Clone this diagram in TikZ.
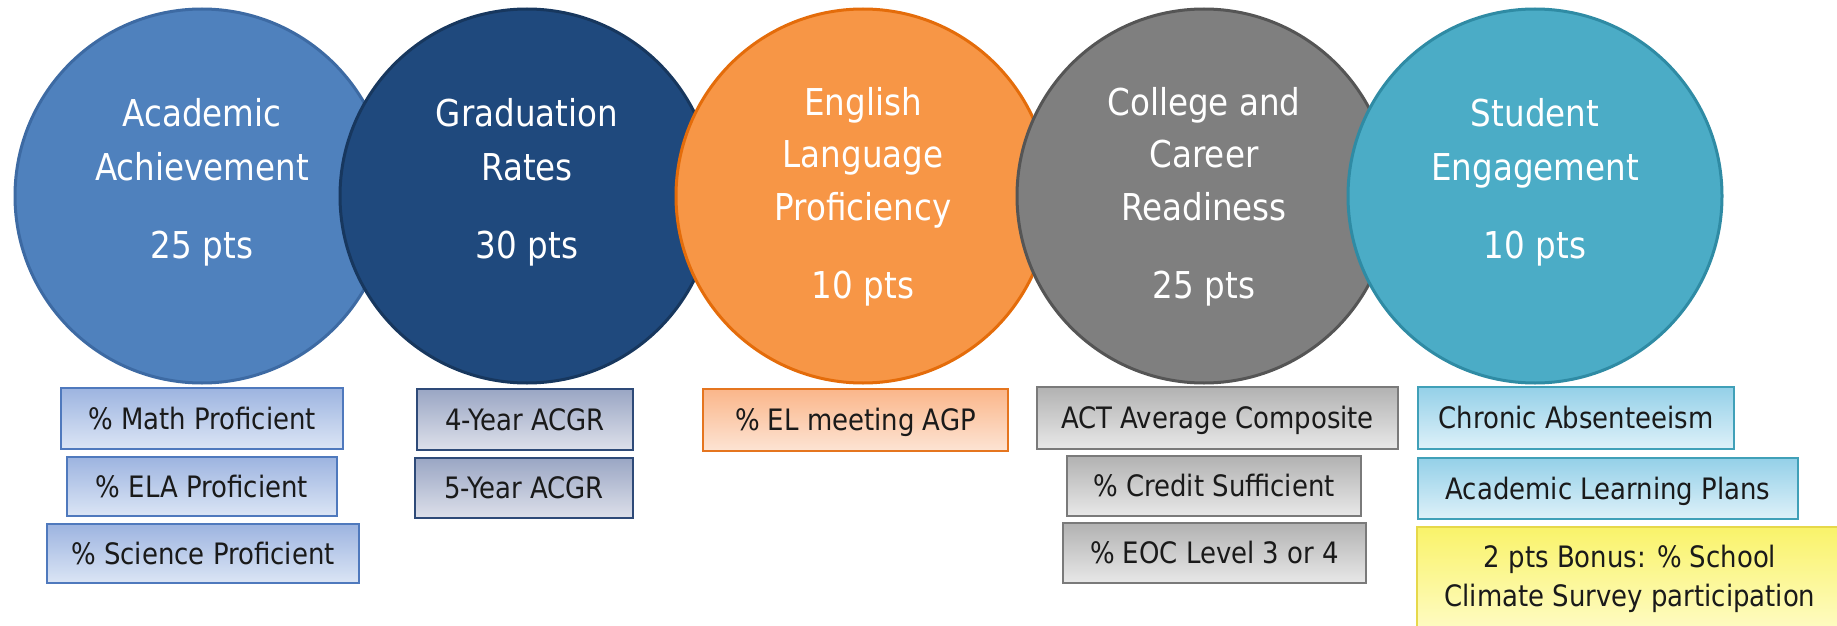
\documentclass[tikz,border=0pt]{standalone}
\usepackage{fontspec}
\setmainfont{DejaVu Sans}[FakeStretch=0.88]
\definecolor{cA}{HTML}{4F81BD}\definecolor{cAd}{HTML}{3D6AA3}
\definecolor{cB}{HTML}{1F497D}\definecolor{cBd}{HTML}{17375E}
\definecolor{cC}{HTML}{F79646}\definecolor{cCd}{HTML}{E46C0A}
\definecolor{cD}{HTML}{7F7F7F}\definecolor{cDd}{HTML}{555555}
\definecolor{cE}{HTML}{4BACC6}\definecolor{cEd}{HTML}{2F8BA4}
\definecolor{bAt}{HTML}{9DB4E0}\definecolor{bAb}{HTML}{DBE5F5}\definecolor{bAd}{HTML}{4F79BD}
\definecolor{bBt}{HTML}{9AA6C4}\definecolor{bBb}{HTML}{DDE0EA}\definecolor{bBd}{HTML}{2E4A78}
\definecolor{bCt}{HTML}{FAB68A}\definecolor{bCb}{HTML}{FDE4D4}\definecolor{bCd}{HTML}{E5751F}
\definecolor{bDt}{HTML}{B2B2B2}\definecolor{bDb}{HTML}{E8E8E8}\definecolor{bDd}{HTML}{7A7A7A}
\definecolor{bEt}{HTML}{94D0E8}\definecolor{bEb}{HTML}{DEF1F9}\definecolor{bEd}{HTML}{40A0B8}
\definecolor{bYt}{HTML}{F9F36A}\definecolor{bYb}{HTML}{FFFCCC}\definecolor{bYd}{HTML}{E6D84A}
\definecolor{boxtext}{HTML}{1A1A1A}
\tikzset{
  circ/.style={circle, minimum size=374pt, inner sep=0pt, line width=3pt},
  ctext/.style={text=white, font=\fontsize{37}{44}\selectfont, anchor=base, inner sep=0pt},
  box/.style={rectangle, inner sep=0pt, line width=1.8pt, text=boxtext,
    font=\fontsize{29.5}{40}\selectfont, text height=21.5pt, text depth=0pt},
  btext/.style={text=boxtext, font=\fontsize{29.5}{40}\selectfont, anchor=base, inner sep=0pt},
  boxA/.style={box, draw=bAd, top color=bAt, bottom color=bAb},
  boxB/.style={box, draw=bBd, top color=bBt, bottom color=bBb},
  boxC/.style={box, draw=bCd, top color=bCt, bottom color=bCb},
  boxD/.style={box, draw=bDd, top color=bDt, bottom color=bDb},
  boxE/.style={box, draw=bEd, top color=bEt, bottom color=bEb},
  boxY/.style={box, draw=bYd, top color=bYt, bottom color=bYb},
}
\begin{document}
\begin{tikzpicture}[x=1pt, y=-1pt]
\clip (0,0) rectangle (1837,626);
\fill[white] (0,0) rectangle (1837,626);
% circles
\node[circ, fill=cA, draw=cAd] (c1) at (202,196) {};
\node[circ, fill=cB, draw=cBd] (c2) at (527,196) {};
\node[circ, fill=cC, draw=cCd] (c3) at (863,196) {};
\node[circ, fill=cD, draw=cDd] (c4) at (1204,196) {};
\node[circ, fill=cE, draw=cEd] (c5) at (1535,196) {};
% circle texts
\node[ctext] (t1a) at (202,126) {Academic};
\node[ctext] (t1b) at (202,180) {Achievement};
\node[ctext] (t1c) at (202,258) {25 pts};
\node[ctext] (t2a) at (527,126) {Graduation};
\node[ctext] (t2b) at (527,180) {Rates};
\node[ctext] (t2c) at (527,258) {30 pts};
\node[ctext] (t3a) at (863,115) {English};
\node[ctext] (t3b) at (863,167) {Language};
\node[ctext] (t3c) at (863,220) {Proficiency};
\node[ctext] (t3d) at (863,298) {10 pts};
\node[ctext] (t4a) at (1204,115) {College and};
\node[ctext] (t4b) at (1204,167) {Career};
\node[ctext] (t4c) at (1204,220) {Readiness};
\node[ctext] (t4d) at (1204,298) {25 pts};
\node[ctext] (t5a) at (1535,126) {Student};
\node[ctext] (t5b) at (1535,180) {Engagement};
\node[ctext] (t5c) at (1535,258) {10 pts};
% boxes
\node[boxA, minimum width=282pt, minimum height=61pt] (m1) at (202,418.5) {\% Math Proficient};
\node[boxA, minimum width=270pt, minimum height=59pt] (m2) at (202,486.5) {\% ELA Proficient};
\node[boxA, minimum width=312pt, minimum height=59pt] (m3) at (203,553.5) {\% Science Proficient};
\node[boxB, minimum width=216pt, minimum height=61pt] (g1) at (525,419.5) {4-Year ACGR};
\node[boxB, minimum width=218pt, minimum height=60pt] (g2) at (524,488) {5-Year ACGR};
\node[boxC, minimum width=305pt, minimum height=62pt] (e1) at (855.5,420) {\% EL meeting AGP};
\node[boxD, minimum width=361pt, minimum height=62pt] (r1) at (1217.5,418) {ACT Average Composite};
\node[boxD, minimum width=294pt, minimum height=60pt] (r2) at (1214,486) {\% Credit Sufficient};
\node[boxD, minimum width=303pt, minimum height=60pt] (r3) at (1214.5,553) {\% EOC Level 3 or 4};
\node[boxE, minimum width=316pt, minimum height=62pt] (s1) at (1576,418) {Chronic Absenteeism};
\node[boxE, minimum width=380pt, minimum height=61pt] (s2) at (1608,488.5) {Academic Learning Plans};
\node[boxY, minimum width=426pt, minimum height=113pt] (s3) at (1630,583.5) {};
\node[btext] (s3a) at (1630,567) {2 pts Bonus: \% School};
\node[btext] (s3b) at (1630,606) {Climate Survey participation};
\end{tikzpicture}
\end{document}
